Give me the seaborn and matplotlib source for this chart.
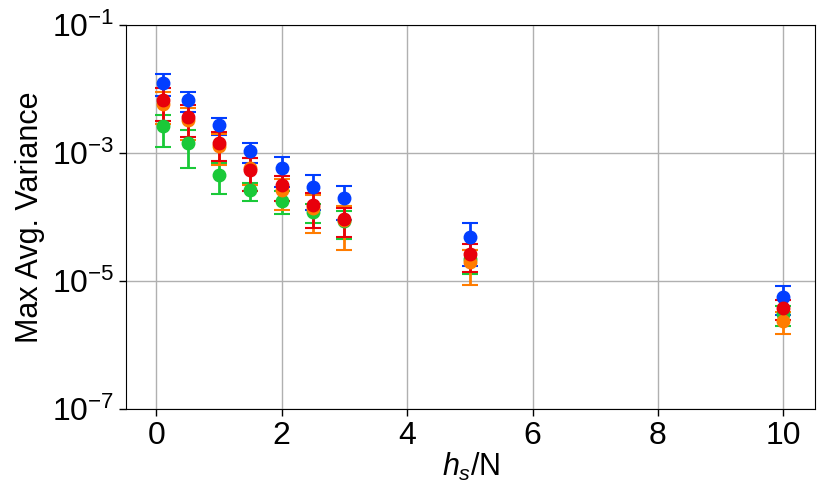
import numpy as np
import pandas as pd
import matplotlib
matplotlib.use("Agg")
import matplotlib.pyplot as plt
import seaborn as sns

# ── data ──────────────────────────────────────────
hs = [0.1, 0.5, 1.0, 1.5, 2.0, 2.5, 3.0, 5.0, 10.0]

blue_mean = [1.24e-2, 6.7e-3, 2.7e-3, 1.07e-3, 5.8e-4, 2.9e-4, 1.98e-4, 4.9e-5, 5.6e-6]
blue_err = [4.7e-3, 2.4e-3, 7.8e-4, 3.7e-4, 2.9e-4, 1.6e-4, 1.1e-4, 3.2e-5, 2.7e-6]

green_mean = [2.6e-3, 1.44e-3, 4.6e-4, 2.6e-4, 1.8e-4, 1.2e-4, 8.5e-5, 2.2e-5, 3.0e-6]
green_err = [1.35e-3, 8.5e-4, 2.3e-4, 8.0e-5, 7.0e-5, 4.0e-5, 4.0e-5, 9.0e-6, 1.0e-6]

orange_mean = [5.8e-3, 3.3e-3, 1.3e-3, 5.8e-4, 2.6e-4, 1.4e-4, 9.0e-5, 1.95e-5, 2.4e-6]
orange_err = [3.0e-3, 1.7e-3, 6.5e-4, 2.6e-4, 1.3e-4, 8.4e-5, 5.9e-5, 1.1e-5, 0.9e-6]

red_mean = [6.7e-3, 3.7e-3, 1.44e-3, 5.4e-4, 3.1e-4, 1.54e-4, 9.3e-5, 2.6e-5, 3.8e-6]
red_err = [3.5e-3, 1.9e-3, 7.0e-4, 2.9e-4, 1.3e-4, 8.6e-5, 4.5e-5, 1.2e-5, 1.3e-6]

series = [
    (blue_mean, blue_err, 0),
    (green_mean, green_err, 2),
    (orange_mean, orange_err, 1),
    (red_mean, red_err, 3),
]

# ── plot ──────────────────────────────────────────
sns.set_style("ticks")
pal = sns.color_palette("bright")
plt.rcParams["font.family"] = ["Liberation Sans", "DejaVu Sans"]
plt.rcParams["mathtext.fontset"] = "custom"
plt.rcParams["mathtext.rm"] = "Liberation Sans"
plt.rcParams["mathtext.it"] = "Liberation Sans:italic"
plt.rcParams["text.color"] = "black"
plt.rcParams["axes.labelcolor"] = "black"
plt.rcParams["xtick.color"] = "black"
plt.rcParams["ytick.color"] = "black"

fig = plt.figure(figsize=(8.31, 4.97), dpi=100)
ax = fig.add_axes([0.152, 0.177, 0.829, 0.773])

for mean, err, ci in series:
    ax.errorbar(hs, mean, yerr=err, fmt="o", color=pal[ci], markersize=9,
                capsize=6, elinewidth=2, capthick=1.5)

ax.set_yscale("log")
ax.set_ylim(1e-7, 1e-1)
ax.set_yticks([1e-7, 1e-5, 1e-3, 1e-1])
ax.yaxis.set_minor_locator(matplotlib.ticker.NullLocator())
ax.set_xlim(-0.48, 10.51)
ax.set_xticks([0, 2, 4, 6, 8, 10])
ax.grid(True, color="#b0b0b0", linewidth=1)
ax.set_axisbelow(True)
ax.tick_params(labelsize=23, length=5, width=1)
ax.set_xlabel("$h_s$/N", fontsize=22, labelpad=0)
ax.set_ylabel("Max Avg. Variance", fontsize=22, labelpad=5)
for s in ax.spines.values():
    s.set_color("black")

fig.savefig("out.png", dpi=100)
